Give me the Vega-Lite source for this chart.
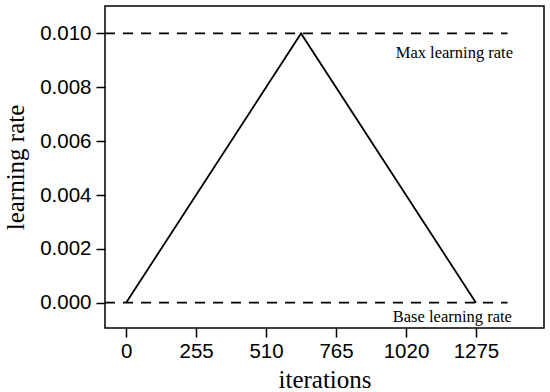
{
  "$schema": "https://vega.github.io/schema/vega-lite/v6.json",
  "width": 439,
  "height": 322,
  "autosize": "none",
  "padding": {"left": 105, "top": 6, "right": 6, "bottom": 64},
  "background": "white",
  "config": {
    "view": {"stroke": "black", "strokeWidth": 1.5},
    "axis": {
      "grid": false,
      "domain": false,
      "tickColor": "black",
      "tickSize": 9,
      "tickWidth": 1.5,
      "labelColor": "black",
      "labelFont": "Liberation Sans",
      "labelFontSize": 20.5,
      "titleColor": "black",
      "titleFont": "Liberation Serif",
      "titleFontWeight": "normal"
    }
  },
  "datasets": {
    "lr": [
      {"iter": 0, "lr": 0.0},
      {"iter": 637.5, "lr": 0.01},
      {"iter": 1275, "lr": 0.0}
    ],
    "bounds": [
      {"name": "max", "iter": -77, "lr": 0.01},
      {"name": "max", "iter": 1390, "lr": 0.01},
      {"name": "base", "iter": -77, "lr": 0.0},
      {"name": "base", "iter": 1390, "lr": 0.0}
    ],
    "labels": [
      {"text": "Max learning rate", "iter": 1410, "lr": 0.00928},
      {"text": "Base learning rate", "iter": 1406, "lr": -0.00053}
    ]
  },
  "layer": [
    {
      "data": {"name": "bounds"},
      "mark": {"type": "line", "color": "black", "strokeWidth": 1.8, "strokeDash": [10, 8], "clip": true},
      "encoding": {
        "x": {
          "field": "iter", "type": "quantitative",
          "scale": {"domain": [-77, 1523], "nice": false, "zero": false},
          "axis": {"values": [0, 255, 510, 765, 1020, 1275], "format": "d", "title": "iterations", "titleFontSize": 25, "labelPadding": 4, "titlePadding": 6}
        },
        "y": {
          "field": "lr", "type": "quantitative",
          "scale": {"domain": [-0.00094, 0.01102], "nice": false, "zero": false},
          "axis": {"values": [0, 0.002, 0.004, 0.006, 0.008, 0.01], "format": ".3f", "title": "learning rate", "titleFontSize": 25, "labelPadding": 5, "titlePadding": 11}
        },
        "detail": {"field": "name"}
      }
    },
    {
      "data": {"name": "lr"},
      "mark": {"type": "line", "color": "black", "strokeWidth": 1.8},
      "encoding": {
        "x": {"field": "iter", "type": "quantitative"},
        "y": {"field": "lr", "type": "quantitative"}
      }
    },
    {
      "data": {"name": "labels"},
      "mark": {"type": "text", "align": "right", "baseline": "middle", "font": "Liberation Serif", "fontSize": 16.5, "color": "black"},
      "encoding": {
        "x": {"field": "iter", "type": "quantitative"},
        "y": {"field": "lr", "type": "quantitative"},
        "text": {"field": "text"}
      }
    }
  ]
}
